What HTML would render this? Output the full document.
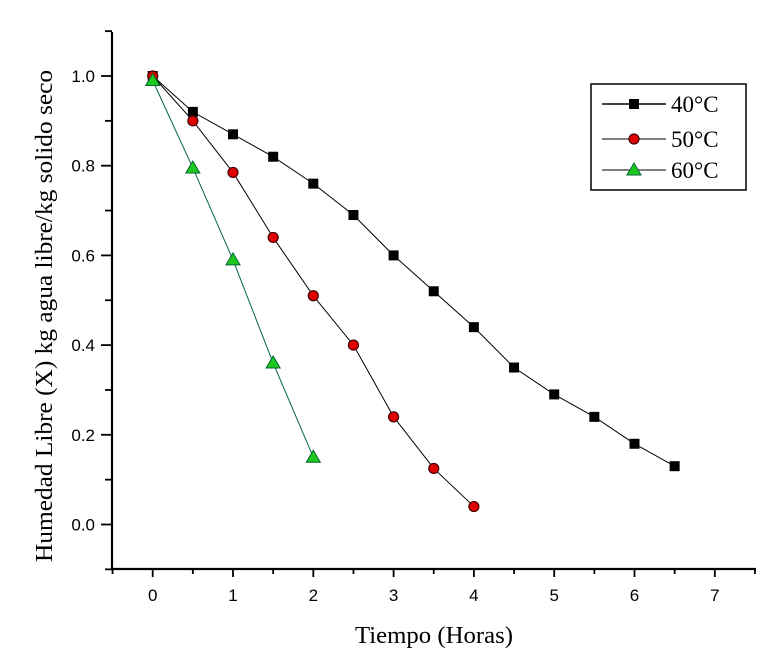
<!DOCTYPE html>
<html><head><meta charset="utf-8"><style>
html,body{margin:0;padding:0;background:#fff;}
svg{display:block;}
</style></head><body>
<svg id="chart" width="774" height="652" xmlns="http://www.w3.org/2000/svg"></svg>
<script>
const xTicks=[0,1,2,3,4,5,6,7];
const yTicks=[0.0,0.2,0.4,0.6,0.8,1.0];
const yTickLabels=["0.0","0.2","0.4","0.6","0.8","1.0"];
const x40=[0,0.5,1,1.5,2,2.5,3,3.5,4,4.5,5,5.5,6,6.5];
const y40=[1.0,0.92,0.87,0.82,0.76,0.69,0.60,0.52,0.44,0.35,0.29,0.24,0.18,0.13];
const x50=[0,0.5,1,1.5,2,2.5,3,3.5,4];
const y50=[1.0,0.90,0.785,0.64,0.51,0.40,0.24,0.125,0.04];
const x60=[0,0.5,1,1.5,2];
const y60=[0.99,0.795,0.59,0.36,0.15];

const NS="http://www.w3.org/2000/svg";
const svg=document.getElementById('chart');
function X(v){return 152.7+v*80.3;}
function Y(v){return 524.5-v*448.5;}
function el(t,a,p){const e=document.createElementNS(NS,t);for(const k in a)e.setAttribute(k,a[k]);(p||svg).appendChild(e);return e;}

let e;
e=el('line',{x1:112,y1:32,x2:112,y2:569,stroke:'#000','stroke-width':2.2});


e=el('line',{x1:111,y1:569,x2:756,y2:569,stroke:'#000','stroke-width':2.2});



for(let v=-0.5;v<=7.5;v+=0.5){
  const major=Math.abs(v-Math.round(v))<1e-6;
  e=el('line',{x1:X(v),y1:569,x2:X(v),y2:major?577:574,stroke:'#000','stroke-width':1.8});
  
  
}
xTicks.forEach(v=>{
  const t=el('text',{x:X(v),y:601,'text-anchor':'middle','font-family':'Liberation Sans, sans-serif','font-size':17});
  t.textContent=v;
  
  
});
for(let v=-0.1;v<=1.101;v+=0.1){
  const major=Math.abs(v*5-Math.round(v*5))<1e-6;
  e=el('line',{x1:112,y1:Y(v),x2:major?101:105,y2:Y(v),stroke:'#000','stroke-width':1.8});
  
  
}
yTicks.forEach((v,i)=>{
  const t=el('text',{x:95,y:Y(v)+6,'text-anchor':'end','font-family':'Liberation Sans, sans-serif','font-size':17});
  t.textContent=yTickLabels[i];
  
  
});

let t=el('text',{x:434,y:643,'text-anchor':'middle','font-family':'Liberation Serif, serif','font-size':24,textLength:158,lengthAdjust:'spacingAndGlyphs'});
t.textContent='Tiempo (Horas)';


t=el('text',{x:0,y:0,'text-anchor':'middle','font-family':'Liberation Serif, serif','font-size':24,textLength:492,lengthAdjust:'spacingAndGlyphs',transform:'translate(52,316) rotate(-90)'});
t.textContent='Humedad Libre (X) kg agua libre/kg solido seco';



function marker(type,cx,cy,g){
  let m;
  if(type==='sq') m=el('rect',{x:cx-5,y:cy-5,width:10,height:10,fill:'#000'},g);
  else if(type==='ci') m=el('circle',{cx:cx,cy:cy,r:5,fill:'#e00000',stroke:'#400','stroke-width':1.2},g);
  else m=el('polygon',{points:`${cx},${cy-7} ${cx+7},${cy+5} ${cx-7},${cy+5}`,fill:'#1ec81e',stroke:'#063','stroke-width':1},g);
  return m;
}
function series(xs,ys,type,color,name){
  const g=el('g',{});
  
  
  const l=el('polyline',{points:xs.map((x,i)=>X(x)+','+Y(ys[i])).join(' '),fill:'none',stroke:color,'stroke-width':1},g);
  
  
  xs.forEach((x,i)=>{
    const m=marker(type,X(x),Y(ys[i]),g);
    
    
  });
}
series(x40,y40,'sq','#000','series-40c');
series(x50,y50,'ci','#000','series-50c');
series(x60,y60,'tr','#064','series-60c');

const lg=el('g',{});


el('rect',{x:591,y:84,width:155,height:106,fill:'#fff',stroke:'#000','stroke-width':1.5},lg);
const labels=['40°C','50°C','60°C'],types=['sq','ci','tr'],ly=[104,139,170];
labels.forEach((s,i)=>{
  el('line',{x1:602,y1:ly[i],x2:666,y2:ly[i],stroke:'#000','stroke-width':i===0?1.5:1},lg);
  marker(types[i],634,ly[i],lg);
  const tx=el('text',{x:671,y:ly[i]+8,'font-family':'Liberation Serif, serif','font-size':23},lg);
  tx.textContent=s;
  
  
});
</script>
</body></html>
